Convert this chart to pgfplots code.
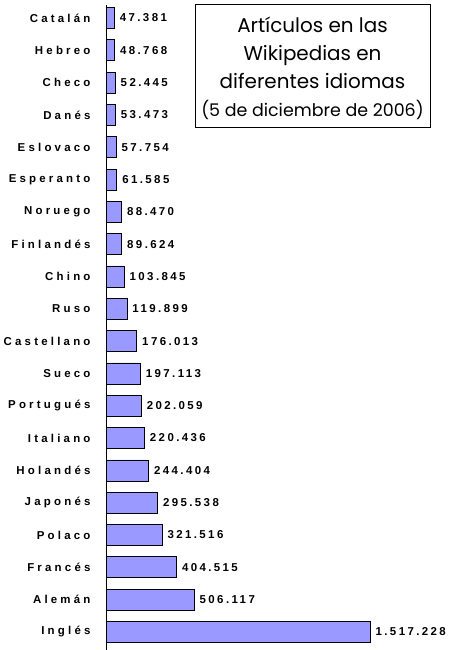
\documentclass[border=0pt]{standalone}
\usepackage{pgfplots}
\usepackage{pgfplotstable}
\pgfplotsset{compat=1.18}
\usepackage{fontspec}
\setmainfont{Liberation Sans}
\newfontfamily\lab{Liberation Sans}[LetterSpace=28]
\newfontfamily\num{Liberation Sans}[LetterSpace=21]
\newfontfamily\tit{Poppins}
\definecolor{barfill}{HTML}{9999FF}
\pgfplotstableread[col sep=comma]{
idx,val,lab,name
0,47381,47.381,Catalán
1,48768,48.768,Hebreo
2,52445,52.445,Checo
3,53473,53.473,Danés
4,57754,57.754,Eslovaco
5,61585,61.585,Esperanto
6,88470,88.470,Noruego
7,89624,89.624,Finlandés
8,103845,103.845,Chino
9,119899,119.899,Ruso
10,176013,176.013,Castellano
11,197113,197.113,Sueco
12,202059,202.059,Portugués
13,220436,220.436,Italiano
14,244404,244.404,Holandés
15,295538,295.538,Japonés
16,321516,321.516,Polaco
17,404515,404.515,Francés
18,506117,506.117,Alemán
19,1517228,1.517.228,Inglés
}\datatable
\begin{document}
\begin{tikzpicture}
\useasboundingbox (0,0) rectangle (450bp,650bp);
\begin{axis}[at={(106bp,0bp)}, anchor=south west, scale only axis,
  width=300bp, height=645bp,
  xmin=0, xmax=1724124, ymin=-0.4, ymax=19.56, y dir=reverse,
  axis y line=left, axis x line=none, y axis line style={-, line width=0.8pt},
  ytick={0,...,19}, yticklabels from table={\datatable}{name}, major tick length=0pt,
  yticklabel style={font=\lab\bfseries\fontsize{11.5}{13}\selectfont, xshift=-12bp},
  xbar, bar width=21bp, bar shift=0pt,
  nodes near coords, point meta=explicit symbolic,
  every node near coord/.append style={font=\num\bfseries\fontsize{11.5}{13}\selectfont, anchor=west, xshift=2bp},
  clip=false]
\addplot[fill=barfill, draw=black, line width=0.6pt] table[x=val, y=idx, meta=lab] {\datatable};
\end{axis}
\draw[line width=0.6pt] (195bp,523bp) rectangle (430bp,646bp);
\node[align=center, inner sep=0pt,
  font=\tit\fontsize{20}{28}\selectfont] at (312.5bp,581.5bp)
  {Artículos en las\\Wikipedias en\\diferentes idiomas\\{\fontsize{17.5}{25}\selectfont (5 de diciembre de 2006)}};
\end{tikzpicture}
\end{document}
